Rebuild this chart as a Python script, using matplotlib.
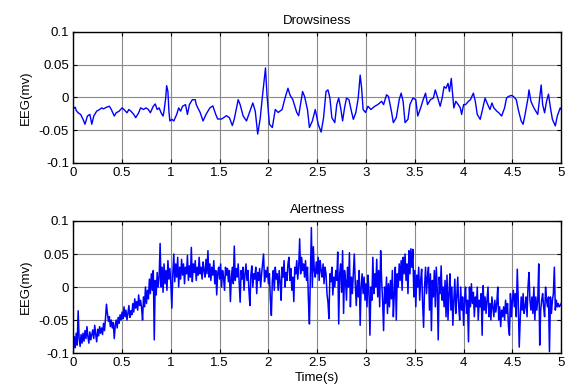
import matplotlib
matplotlib.use('Agg')
import matplotlib.pyplot as plt
import numpy as np

plt.rcParams['font.family'] = ['Liberation Sans', 'DejaVu Sans']

# Drowsiness trace (time in s, EEG in mV)
drowsy_t = [0.00, 0.02, 0.03, 0.05, 0.075, 0.10, 0.12, 0.145, 0.17, 0.19, 0.21, 0.24, 0.27, 0.29, 0.31,
            0.34, 0.37, 0.39, 0.42, 0.44, 0.47, 0.50, 0.52, 0.55, 0.57, 0.59, 0.62, 0.64, 0.67, 0.69,
            0.72, 0.745, 0.77, 0.79, 0.82, 0.84, 0.86, 0.88, 0.90, 0.92, 0.93, 0.947, 0.957, 0.97, 0.98,
            0.99, 1.01, 1.03, 1.06, 1.08, 1.10, 1.12, 1.15, 1.17, 1.19, 1.22, 1.25, 1.26, 1.30, 1.33,
            1.36, 1.40, 1.43, 1.46, 1.48, 1.52, 1.57, 1.60, 1.63, 1.65, 1.69, 1.71, 1.74, 1.775, 1.81,
            1.84, 1.865, 1.89, 1.915, 1.94, 1.97, 1.985, 2.01, 2.04, 2.07, 2.10, 2.14, 2.17, 2.20, 2.22,
            2.25, 2.29, 2.31, 2.35, 2.37, 2.40, 2.42, 2.45, 2.48, 2.51, 2.54, 2.565, 2.59, 2.61, 2.63,
            2.65, 2.68, 2.70, 2.72, 2.74, 2.76, 2.78, 2.80, 2.825, 2.85, 2.87, 2.895, 2.92, 2.94, 2.955,
            2.97, 2.995, 3.02, 3.05, 3.09, 3.12, 3.16, 3.18, 3.21, 3.23, 3.26, 3.28, 3.31, 3.34, 3.36,
            3.38, 3.40, 3.43, 3.45, 3.48, 3.51, 3.53, 3.56, 3.58, 3.61, 3.63, 3.66, 3.69, 3.71, 3.73,
            3.76, 3.78, 3.80, 3.82, 3.84, 3.855, 3.874, 3.885, 3.90, 3.92, 3.945, 3.966, 3.98, 4.00, 4.02,
            4.05, 4.07, 4.10, 4.12, 4.14, 4.17, 4.19, 4.22, 4.24, 4.27, 4.29, 4.31, 4.34, 4.36, 4.39,
            4.42, 4.44, 4.46, 4.49, 4.51, 4.54, 4.56, 4.59, 4.61, 4.63, 4.66, 4.67, 4.69, 4.72, 4.74,
            4.76, 4.78, 4.795, 4.81, 4.83, 4.85, 4.87, 4.89, 4.91, 4.94, 4.96, 4.99, 5.00]
drowsy_v = [-0.017, -0.015, -0.02, -0.0235, -0.026, -0.0335, -0.041, -0.0285, -0.026, -0.041, -0.0285, -0.021, -0.0185, -0.016, -0.0175,
            -0.015, -0.0135, -0.0185, -0.0285, -0.0235, -0.021, -0.016, -0.0185, -0.0235, -0.0185, -0.021, -0.026, -0.031, -0.0235, -0.016,
            -0.0185, -0.016, -0.0185, -0.0235, -0.0135, -0.010, -0.0185, -0.016, -0.0235, -0.0285, -0.021, -0.001, 0.018, 0.009, -0.021,
            -0.036, -0.0335, -0.036, -0.026, -0.016, -0.021, -0.0135, -0.011, -0.026, -0.011, -0.0035, -0.0035, -0.011, -0.023, -0.036,
            -0.026, -0.016, -0.013, -0.026, -0.033, -0.033, -0.028, -0.031, -0.043, -0.033, -0.0035, -0.011, -0.028, -0.036, -0.021,
            -0.0085, -0.021, -0.056, -0.033, 0.004, 0.045, 0.004, -0.041, -0.046, -0.0185, -0.023, -0.0185, -0.001, 0.014, 0.004,
            -0.0035, -0.023, -0.028, 0.009, 0.0015, -0.0185, -0.046, -0.036, -0.0185, -0.041, -0.053, -0.031, 0.009, 0.0115, -0.001,
            -0.031, -0.0385, -0.011, -0.001, -0.016, -0.036, -0.016, -0.001, -0.0035, -0.021, -0.0335, -0.0235, -0.001, 0.034, 0.014,
            -0.0185, -0.023, -0.0135, -0.0185, -0.0135, -0.011, -0.006, -0.011, 0.004, 0.0015, -0.021, -0.0385, -0.031, -0.0035, 0.0065,
            -0.006, -0.0385, -0.0335, -0.011, -0.001, -0.0035, -0.0285, -0.016, -0.006, 0.0065, -0.011, -0.0035, -0.001, 0.0115, 0.0015,
            -0.0135, -0.001, 0.0165, 0.014, 0.0215, 0.009, 0.029, 0.009, -0.016, -0.006, -0.011, -0.016, -0.026, -0.011, -0.011,
            -0.006, -0.0035, 0.0065, -0.006, -0.026, -0.0335, -0.021, -0.001, -0.0085, -0.0185, -0.0085, -0.016, -0.021, -0.0235, -0.0285,
            -0.016, -0.001, 0.0015, 0.003, 0.0015, -0.0035, -0.0185, -0.036, -0.041, -0.026, -0.001, 0.0115, -0.006, -0.016, -0.021,
            -0.026, -0.001, 0.019, -0.011, -0.0235, -0.006, 0.005, -0.016, -0.0335, -0.0435, -0.0285, -0.016, -0.0185]

# Alertness trace, one value every 0.01 s
alert_v = [
    -0.098, -0.075, -0.092, -0.070, -0.088, -0.036, -0.078, -0.090, -0.072, -0.085,
    -0.070, -0.082, -0.066, -0.078, -0.060, -0.075, -0.085, -0.068, -0.080, -0.072,
    -0.065, -0.078, -0.058, -0.072, -0.083, -0.064, -0.074, -0.060, -0.070, -0.062,
    -0.072, -0.055, -0.066, -0.048, -0.026, -0.040, -0.052, -0.045, -0.060, -0.050,
    -0.062, -0.054, -0.078, -0.058, -0.050, -0.062, -0.046, -0.055, -0.042, -0.050,
    -0.038, -0.048, -0.030, -0.045, -0.035, -0.050, -0.040, -0.028, -0.046, -0.036,
    -0.042, -0.025, -0.038, -0.018, -0.032, -0.022, -0.035, -0.012, -0.028, -0.020,
    -0.032, -0.050, -0.015, -0.030, 0.000, -0.025, -0.005, -0.018, 0.012, -0.010,
    0.020, -0.005, 0.025, -0.080, 0.010, -0.012, 0.022, 0.000, 0.015, 0.066,
    0.000, 0.030, -0.008, 0.035, 0.005, 0.025, -0.005, 0.040, 0.012, 0.028,
    0.005, -0.032, 0.020, 0.050, 0.008, 0.035, 0.015, 0.045, 0.000, 0.030,
    0.012, 0.042, 0.018, 0.035, 0.005, 0.030, 0.020, 0.048, 0.010, 0.032,
    0.015, 0.060, 0.008, 0.035, 0.022, 0.040, 0.010, 0.030, 0.018, 0.045,
    0.020, 0.030, 0.012, 0.038, 0.025, 0.015, 0.042, 0.020, 0.055, 0.015,
    0.035, 0.010, 0.030, 0.018, 0.040, 0.005, 0.025, -0.012, 0.020, 0.030,
    0.012, 0.035, 0.000, 0.025, 0.015, -0.005, 0.030, 0.018, 0.028, 0.008,
    0.025, -0.022, 0.015, 0.030, 0.005, 0.062, 0.010, 0.028, 0.015, 0.035,
    0.008, -0.023, 0.025, 0.012, 0.030, -0.005, 0.020, 0.035, 0.010, 0.025,
    -0.005, -0.028, 0.018, 0.032, 0.000, 0.020, 0.012, 0.030, -0.010, 0.022,
    0.010, 0.028, 0.000, 0.020, 0.035, 0.050, 0.008, 0.025, 0.015, 0.030,
    0.005, 0.020, -0.020, -0.043, 0.010, 0.025, -0.005, 0.030, 0.012, 0.020,
    -0.005, 0.025, 0.008, -0.020, 0.030, 0.015, 0.040, 0.000, 0.022, 0.010,
    0.035, 0.045, 0.010, 0.028, -0.005, 0.015, -0.022, 0.030, 0.020, 0.040,
    0.012, 0.030, 0.073, 0.020, 0.045, 0.025, 0.035, 0.015, 0.040, 0.010,
    0.030, -0.020, -0.056, 0.020, 0.090, 0.000, 0.061, 0.025, 0.015, 0.038,
    0.020, 0.045, 0.010, 0.040, 0.025, 0.015, 0.035, 0.005, 0.030, 0.020,
    -0.010, -0.023, -0.048, 0.020, 0.008, 0.030, -0.012, 0.015, 0.000, 0.025,
    0.010, 0.053, -0.056, 0.020, 0.035, -0.008, 0.055, -0.040, 0.025, 0.010,
    -0.020, 0.030, 0.000, 0.052, -0.030, 0.015, -0.010, 0.020, 0.050, 0.005,
    -0.028, 0.010, -0.015, 0.025, -0.058, 0.000, 0.020, -0.010, 0.015, -0.020,
    0.005, -0.030, 0.018, -0.005, -0.073, 0.000, -0.020, 0.045, -0.010, 0.020,
    0.000, 0.042, -0.015, 0.025, -0.030, 0.055, 0.010, -0.020, -0.066, 0.000,
    -0.025, 0.015, -0.040, 0.005, -0.030, 0.010, -0.018, 0.025, -0.045, -0.010,
    0.030, -0.050, 0.020, 0.000, 0.035, 0.010, 0.040, -0.005, 0.045, 0.020,
    0.050, 0.010, 0.035, -0.010, 0.055, 0.020, 0.058, 0.030, 0.057, -0.015,
    0.025, -0.030, 0.018, 0.000, 0.030, -0.020, 0.010, 0.027, -0.025, -0.061,
    0.000, 0.030, -0.010, 0.015, 0.030, -0.035, 0.020, -0.066, 0.010, -0.015,
    0.025, -0.030, 0.030, -0.005, -0.080, 0.015, -0.010, 0.032, -0.020, 0.000,
    -0.030, 0.010, -0.045, 0.018, -0.050, -0.010, 0.020, -0.035, 0.000, -0.058,
    -0.020, 0.012, -0.040, -0.015, 0.015, -0.030, -0.050, 0.000, -0.035, -0.015,
    -0.058, -0.020, 0.000, -0.040, -0.020, -0.083, 0.000, -0.030, 0.005, -0.025,
    -0.008, -0.045, -0.015, -0.030, 0.000, -0.050, -0.020, -0.030, -0.010, -0.073,
    0.002, -0.035, -0.015, -0.040, -0.020, 0.000, -0.045, -0.025, -0.050, -0.015,
    -0.030, -0.045, -0.020, -0.038, -0.025, 0.000, -0.050, -0.030, -0.060, -0.035,
    -0.045, -0.030, -0.050, -0.020, -0.040, -0.025, -0.060, -0.073, -0.010, -0.045,
    -0.020, -0.005, -0.030, -0.010, -0.045, 0.027, -0.020, -0.091, -0.050, -0.015,
    -0.035, -0.010, -0.040, -0.030, -0.015, -0.045, 0.000, 0.022, -0.020, -0.035,
    -0.015, -0.040, 0.000, -0.050, -0.015, -0.035, -0.020, 0.035, -0.088, -0.035,
    -0.020, -0.010, -0.030, -0.045, 0.000, -0.020, -0.030, -0.015, -0.098, -0.015,
    -0.040, -0.020, -0.010, 0.030, -0.035, -0.020, -0.030, -0.025, -0.030, -0.028,
    -0.025,
]
alert_t = np.arange(len(alert_v)) * 0.01

x_ticks = [0, 0.5, 1, 1.5, 2, 2.5, 3, 3.5, 4, 4.5, 5]
x_labels = ['0', '0.5', '1', '1.5', '2', '2.5', '3', '3.5', '4', '4.5', '5']
y_ticks = [-0.1, -0.05, 0, 0.05, 0.1]
y_labels = ['-0.1', '-0.05', '0', '0.05', '0.1']

fig = plt.figure(figsize=(5.68, 3.85), dpi=100)
ax1 = fig.add_axes([0.129, 0.577, 0.859, 0.340])
ax2 = fig.add_axes([0.129, 0.083, 0.859, 0.343])

fs = 9.5


def style(ax, title):
    ax.set_xlim(0, 5)
    ax.set_ylim(-0.1, 0.1)
    ax.set_xticks(x_ticks)
    ax.set_xticklabels(x_labels)
    ax.set_yticks(y_ticks)
    ax.set_yticklabels(y_labels)
    ax.grid(True, color='#8a8a8a', linewidth=0.8, linestyle='-')
    ax.set_axisbelow(True)
    ax.tick_params(direction='in', top=True, right=True, labelsize=fs, length=3, pad=3)
    for s in ax.spines.values():
        s.set_linewidth(1.0)
    ax.set_title(title, fontsize=fs, pad=6)
    ax.set_ylabel('EEG(mv)', fontsize=fs, labelpad=5)


ax1.plot(drowsy_t, drowsy_v, color='#0000ff', linewidth=1.0)
style(ax1, 'Drowsiness')

ax2.plot(alert_t, alert_v, color='#0000ff', linewidth=1.1)
style(ax2, 'Alertness')
ax2.set_xlabel('Time(s)', fontsize=fs, labelpad=2)

fig.savefig('out.png', dpi=100)
